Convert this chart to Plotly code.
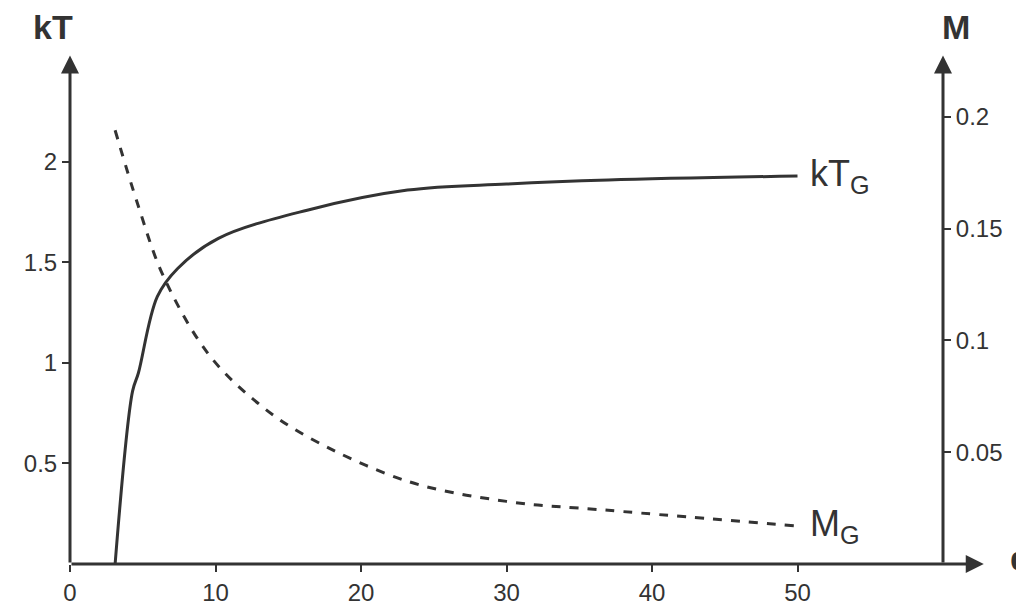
import plotly.graph_objects as go

q_kt = [3.1, 4.3, 4.7, 6.0, 7.4, 10.2, 16.3, 23.2, 30, 37, 50]
kt = [0.0, 0.86, 0.95, 1.33, 1.47, 1.62, 1.76, 1.86, 1.89, 1.91, 1.93]
q_m = [3.1, 4.7, 6.4, 9.5, 12.9, 16.3, 23.2, 30, 37, 50]
m = [0.194, 0.160, 0.129, 0.094, 0.072, 0.057, 0.037, 0.028, 0.024, 0.017]

C = "#333333"
F = dict(family="Liberation Sans, Arial", size=24, color=C)
fig = go.Figure()
fig.add_trace(go.Scatter(x=q_kt, y=kt, mode="lines", line=dict(color=C, width=3, shape="spline"), yaxis="y"))
fig.add_trace(go.Scatter(x=q_m, y=m, mode="lines", line=dict(color=C, width=3, dash="dash", shape="spline"), yaxis="y2"))

fig.update_layout(
    width=1024, height=610, showlegend=False, plot_bgcolor="white", paper_bgcolor="white",
    margin=dict(l=62, r=89, t=50, b=44), font=F,
    xaxis=dict(range=[0, 60], tickvals=[0, 10, 20, 30, 40, 50], showgrid=False, zeroline=False,
               ticks="outside", ticklen=7, tickwidth=2, tickcolor=C, showline=False),
    yaxis=dict(range=[0, 2.517], tickvals=[0.5, 1, 1.5, 2], ticktext=["0.5", "1", "1.5", "2"], showgrid=False,
               zeroline=False, ticks="outside", ticklen=7, tickwidth=2, tickcolor=C),
    yaxis2=dict(range=[0, 0.2263], overlaying="y", side="right", tickvals=[0.05, 0.1, 0.15, 0.2],
                ticktext=["0.05", "0.1", "0.15", "0.2"], showgrid=False, zeroline=False,
                ticks="outside", ticklen=7, tickwidth=2, tickcolor=C),
)
arr = dict(showarrow=True, arrowhead=2, arrowsize=1.2, arrowwidth=3, arrowcolor=C, text="",
           xref="x", yref="y", axref="x", ayref="y")
fig.add_annotation(x=0, y=2.53, ax=0, ay=0, **arr)
fig.add_annotation(x=60, y=2.53, ax=60, ay=0, **arr)
fig.add_annotation(x=62.8, y=0, ax=0, ay=0, **arr)
B = dict(family="Liberation Sans, Arial", size=34, color=C)
fig.add_annotation(text="<b>kT</b>", showarrow=False, font=B, xref="paper", yref="paper",
                   x=-0.02, y=1.02, xanchor="center", yanchor="bottom")
fig.add_annotation(text="<b>M</b>", showarrow=False, font=B, xref="paper", yref="paper",
                   x=1.015, y=1.02, xanchor="center", yanchor="bottom")
fig.add_annotation(text="<b>q</b>", showarrow=False, font=B, xref="paper", yref="y",
                   x=1.075, y=0.03, xanchor="left", yanchor="middle")
L = dict(family="Liberation Sans, Arial", size=36, color=C)
fig.add_annotation(text="kT<sub>G</sub>", showarrow=False, font=L, x=50.7, y=1.93, xanchor="left", yanchor="middle")
fig.add_annotation(text="M<sub>G</sub>", showarrow=False, font=L, x=50.7, y=0.017, yref="y2", xanchor="left", yanchor="middle")
fig.write_html("out.html")
